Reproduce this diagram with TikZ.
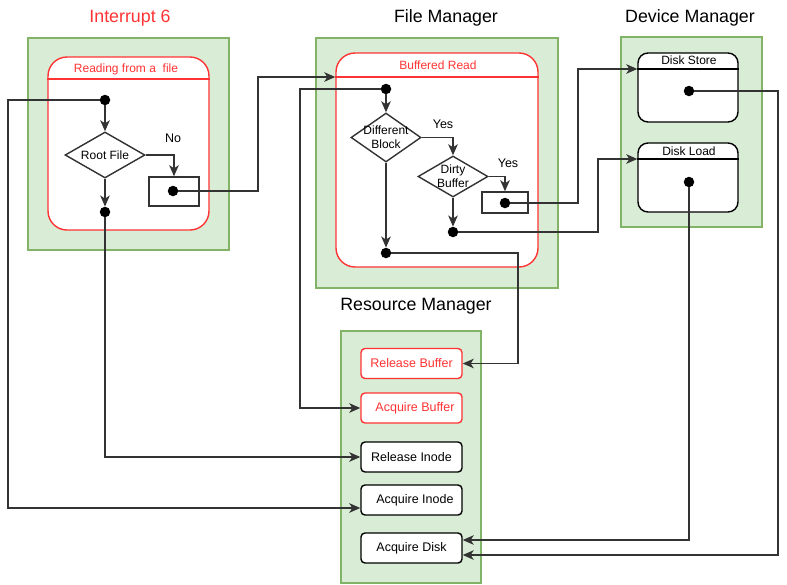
\documentclass[tikz,border=0pt]{standalone}
\usepackage{fontspec}
\setmainfont{Liberation Sans}
\usetikzlibrary{arrows.meta,shapes.geometric}
\definecolor{grpfill}{HTML}{D9ECD5}
\definecolor{grpline}{HTML}{82B366}
\definecolor{lanered}{HTML}{FF3333}
\definecolor{linegray}{HTML}{333333}

\begin{document}
\begin{tikzpicture}[x=1pt,y=-1pt,
	group/.style={draw=grpline,fill=grpfill,line width=1.4pt,inner sep=0pt},
	lane/.style={draw=lanered,fill=white,line width=1.4pt,rounded corners=19pt,inner sep=0pt},
	devlane/.style={draw=black,fill=white,line width=1.4pt,rounded corners=10pt,inner sep=0pt,minimum width=100pt,minimum height=69pt},
	grptitle/.style={font=\fontsize{17.8}{20}\selectfont},
	lanetitle/.style={font=\fontsize{12}{14}\selectfont},
	dec/.style={diamond,draw=linegray,fill=white,line width=1.4pt,inner sep=0pt},
	dectext/.style={font=\fontsize{12}{14}\selectfont,align=center},
	holder/.style={draw=linegray,fill=white,line width=1.5pt,inner sep=0pt},
	dot/.style={circle,fill=black,inner sep=0pt,minimum size=10.5pt},
	res/.style={draw=black,fill=white,line width=1.4pt,rounded corners=4pt,minimum width=101pt,minimum height=30pt,inner sep=0pt,font=\fontsize{12.5}{14}\selectfont},
	resred/.style={res,draw=lanered,text=lanered},
	link/.style={draw=linegray,line width=1.5pt,-{Stealth[length=11pt,width=9.5pt,inset=3pt]}},
	answer/.style={font=\fontsize{12.5}{14}\selectfont}
	]
	\useasboundingbox[fill=white] (0,0) rectangle (787,584);

	\node[group,minimum width=201pt,minimum height=212pt] (intgrp) at (128.5,144) {};
	\node[group,minimum width=242pt,minimum height=250pt] (filegrp) at (437,163) {};
	\node[group,minimum width=141pt,minimum height=190pt] (devgrp) at (691.5,132) {};
	\node[group,minimum width=140pt,minimum height=252pt] (resgrp) at (411,457) {};

	\node[grptitle,text=lanered] (inttitle) at (130,18) {Interrupt 6};
	\node[grptitle] (filetitle) at (446,18) {File Manager};
	\node[grptitle] (devtitle) at (690,18) {Device Manager};
	\node[grptitle] (restitle) at (416,306) {Resource Manager};

	\node[lane,minimum width=161pt,minimum height=173pt] (readlane) at (128.5,143.5) {};
	\draw[draw=lanered,line width=1.4pt] (readlane.west |- 0,79) -- (readlane.east |- 0,79);
	\node[lanetitle,text=lanered] (readtitle) at (126,69) {Reading from a\ \ file};

	\node[lane,minimum width=202pt,minimum height=214pt] (bufflane) at (437,160) {};
	\draw[draw=lanered,line width=1.4pt] (bufflane.west |- 0,77) -- (bufflane.east |- 0,77);
	\node[lanetitle,text=lanered] (bufftitle) at (438,65) {Buffered Read};
	\coordinate (buffhead) at (bufflane.west |- 0,77);

	\node[devlane] (store) at (688,87.5) {};
	\draw[line width=1.4pt] (store.west |- 0,69) -- (store.east |- 0,69);
	\node[lanetitle] (storetitle) at (689,60) {Disk Store};
	\coordinate (storehead) at (store.west |- 0,69);

	\node[devlane] (load) at (688,177.5) {};
	\draw[line width=1.4pt] (load.west |- 0,159) -- (load.east |- 0,159);
	\node[lanetitle] (loadtitle) at (689,151) {Disk Load};
	\coordinate (loadhead) at (load.west |- 0,159);

	\node[resred] (relbuf) at (411.5,363.5) {Release Buffer};
	\node[resred] (acqbuf) at (411.5,408) {\ \ Acquire Buffer};
	\node[res] (relinode) at (411.5,457) {Release Inode};
	\node[res] (acqinode) at (411.5,500) {\ \ Acquire Inode};
	\node[res] (acqdisk) at (411.5,548) {Acquire Disk};

	\node[dot] (readstart) at (105,100) {};
	\node[dec,minimum width=80pt,minimum height=46pt] (rootdec) at (105,155) {};
	\node[dectext] (roottext) at (rootdec) {Root File};
	\node[answer] (notext) at (173,138) {No};
	\node[holder,minimum width=50pt,minimum height=29pt] (rootbox) at (174,191.5) {};
	\node[dot] (rootdot) at (173,191) {};
	\node[dot] (readend) at (105,212) {};

	\node[dot] (buffstart) at (386,89) {};
	\node[dec,minimum width=70pt,minimum height=49pt] (diffdec) at (386,137.5) {};
	\node[dectext] (difftext) at (diffdec) {Different\\Block};
	\node[answer] (yestext) at (443,124) {Yes};
	\node[dec,minimum width=70pt,minimum height=41pt] (dirtydec) at (453,176.5) {};
	\node[dectext] (dirtytext) at (dirtydec) {Dirty\\Buffer};
	\node[answer] (yestwo) at (508,163) {Yes};
	\node[holder,minimum width=46pt,minimum height=21pt] (dirtybox) at (505,202.5) {};
	\node[dot] (dirtydot) at (505,203) {};
	\node[dot] (cleandot) at (453,232) {};
	\node[dot] (buffend) at (386,253) {};

	\node[dot] (storedot) at (689,91) {};
	\node[dot] (loaddot) at (689,182) {};

	\draw[link] (readstart) -- (rootdec.north);
	\draw[link] (rootdec.east) -| (rootbox.north);
	\draw[link] (rootdec.south) -- (readend);
	\draw[link] (readend) |- (relinode.west);
	\draw[link] (readstart) -- ++(-97,0) |- ([yshift=-8pt]acqinode.west);
	\draw[link] (rootdot) -- ++(85,0) |- (buffhead);

	\draw[link] (buffstart) -- (diffdec.north);
	\draw[link] (buffstart) -- ++(-86,0) |- (acqbuf.west);
	\draw[link] (diffdec.east) -| (dirtydec.north);
	\draw[link] (dirtydec.east) -| (dirtybox.north);
	\draw[link] (dirtydec.south) -- (cleandot);
	\draw[link] (diffdec.south) -- (buffend);
	\draw[link] (buffend) -- ++(132,0) |- (relbuf.east);
	\draw[link] (dirtydot) -- ++(73,0) |- (storehead);
	\draw[link] (cleandot) -- ++(145,0) |- (loadhead);

	\draw[link] (storedot) -- ++(89,0) |- ([yshift=-7pt]acqdisk.east);
	\draw[link] (loaddot) |- ([yshift=8pt]acqdisk.east);
\end{tikzpicture}
\end{document}
